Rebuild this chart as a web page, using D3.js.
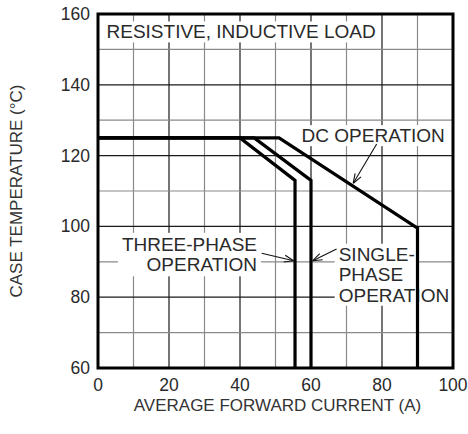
<!DOCTYPE html>
<html lang="en">
<head>
    <meta charset="UTF-8">
    <title>Case temperature vs forward current</title>
    <script src="https://d3js.org/d3.v7.min.js"></script>
    <style>
        body { margin: 0; background: #fff; }
        text { font-family: "Liberation Sans", Arial, sans-serif; fill: #2a2a2a; }
    </style>
</head>
<body>
    <svg width="468" height="434"></svg>

    <script>
        // axis ticks
        var xTicks = [0, 20, 40, 60, 80, 100];
        var yTicks = [60, 80, 100, 120, 140, 160];

        // derating curves: current (A) vs case temperature (C)
        var threePhaseI = [0, 40, 55.5, 55.5];
        var threePhaseT = [125, 125, 113, 60];
        var singlePhaseI = [0, 44, 60, 60];
        var singlePhaseT = [125, 125, 113, 60];
        var dcI = [0, 51, 90, 90];
        var dcT = [125, 125, 99.5, 60];

        var svg = d3.select("svg");

        var x = d3.scaleLinear().domain([0, 100]).range([98, 453]),
            y = d3.scaleLinear().domain([60, 160]).range([368, 14]);

        // grid
        var grid = svg.append("g");
        grid.selectAll(".gx")
            .data(d3.range(10, 100, 10))
            .enter().append("line")
              .attr("x1", function(d) { return x(d); })
              .attr("x2", function(d) { return x(d); })
              .attr("y1", y(60)).attr("y2", y(160))
              .attr("stroke", function(d) { return d % 20 ? "#8a8a8a" : "#1a1a1a"; })
              .attr("stroke-width", 1.2);
        grid.selectAll(".gy")
            .data(d3.range(70, 160, 10))
            .enter().append("line")
              .attr("y1", function(d) { return y(d); })
              .attr("y2", function(d) { return y(d); })
              .attr("x1", x(0)).attr("x2", x(100))
              .attr("stroke", function(d) { return d % 20 ? "#8a8a8a" : "#1a1a1a"; })
              .attr("stroke-width", 1.2);

        // label helper: text lines with white boxes behind
        function label(lines, xd, yd, anchor, block) {
            var g = svg.append("g");
            var bg = g.append("g");
            var t = g.selectAll("text")
                .data(lines)
                .enter().append("text")
                  .attr("x", x(xd))
                  .attr("y", function(d, i) { return y(yd) + i * 20.5; })
                  .attr("text-anchor", anchor)
                  .style("font-size", "19px")
                  .text(function(d) { return d; });
            var pad = 4;
            if (block) {
                var bb = g.node().getBBox();
                bg.append("rect")
                    .attr("x", bb.x - pad).attr("y", bb.y - 1)
                    .attr("width", bb.width + 2 * pad).attr("height", bb.height + 2)
                    .attr("fill", "#fff");
            } else {
                t.each(function() {
                    var bb = this.getBBox();
                    bg.append("rect")
                        .attr("x", bb.x - pad).attr("y", bb.y)
                        .attr("width", bb.width + 2 * pad).attr("height", bb.height)
                        .attr("fill", "#fff");
                });
            }
        }

        function leader(x1, y1, x2, y2) {
            var px1 = x(x1), py1 = y(y1), px2 = x(x2), py2 = y(y2);
            svg.append("line")
                .attr("x1", px1).attr("y1", py1).attr("x2", px2).attr("y2", py2)
                .attr("stroke", "#111").attr("stroke-width", 1.1);
            var a = Math.atan2(py1 - py2, px1 - px2), len = 10;
            [-0.35, 0.35].forEach(function(da) {
                svg.append("line")
                    .attr("x1", px2).attr("y1", py2)
                    .attr("x2", px2 + len * Math.cos(a + da))
                    .attr("y2", py2 + len * Math.sin(a + da))
                    .attr("stroke", "#111").attr("stroke-width", 1.1);
            });
        }

        label(["RESISTIVE, INDUCTIVE LOAD"], 2.4, 153.1, "start", false);
        label(["DC OPERATION"], 97.7, 123.8, "end", false);
        label(["THREE-PHASE", "OPERATION"], 44.8, 93.1, "end", true);
        label(["SINGLE-", "PHASE", "OPERATION"], 67.8, 90.3, "start", false);

        leader(78.5, 123.3, 71.9, 112.2);
        leader(46.1, 92.4, 55.1, 90.3);
        leader(67.2, 93.6, 60.5, 90.3);

        // curves
        var line = d3.line()
            .x(function(d) { return x(d[0]); })
            .y(function(d) { return y(d[1]); });
        [[threePhaseI, threePhaseT], [singlePhaseI, singlePhaseT], [dcI, dcT]].forEach(function(s) {
            svg.append("path")
                .datum(d3.zip(s[0], s[1]))
                .attr("d", line)
                .attr("fill", "none")
                .attr("stroke", "#000")
                .attr("stroke-width", 3.2)
                .attr("stroke-linejoin", "miter");
        });

        // frame
        svg.append("rect")
            .attr("x", x(0)).attr("y", y(160))
            .attr("width", x(100) - x(0)).attr("height", y(60) - y(160))
            .attr("fill", "none").attr("stroke", "#000").attr("stroke-width", 3);

        // tick labels
        svg.selectAll(".xt")
            .data(xTicks)
            .enter().append("text")
              .attr("x", function(d) { return x(d); })
              .attr("y", 391)
              .attr("text-anchor", "middle")
              .style("font-size", "17.5px")
              .text(function(d) { return d; });
        svg.selectAll(".yt")
            .data(yTicks)
            .enter().append("text")
              .attr("x", 90)
              .attr("y", function(d) { return y(d) + 6; })
              .attr("text-anchor", "end")
              .style("font-size", "17.5px")
              .text(function(d) { return d; });

        // axis titles
        svg.append("text")
            .attr("x", x(50) + 2)
            .attr("y", 411)
            .attr("text-anchor", "middle")
            .style("font-size", "17px")
            .style("fill", "#333")
            .text("AVERAGE FORWARD CURRENT (A)");
        svg.append("text")
            .attr("transform", "translate(22," + y(110) + ") rotate(-90)")
            .attr("text-anchor", "middle")
            .style("font-size", "17px")
            .style("fill", "#333")
            .text("CASE TEMPERATURE (°C)");
    </script>
</body>
</html>
